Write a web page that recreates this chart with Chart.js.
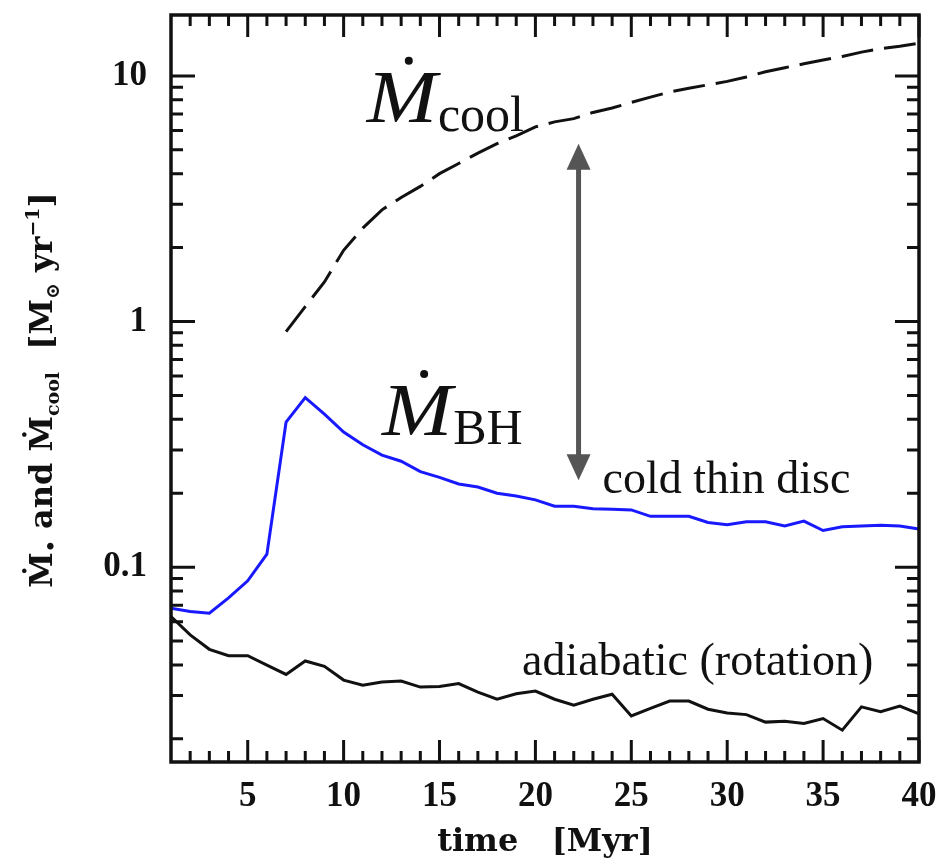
<!DOCTYPE html>
<html>
<head>
<meta charset="utf-8">
<script src="https://cdn.jsdelivr.net/npm/chart.js@4.4.1/dist/chart.umd.min.js"></script>
<style>
  html, body { margin: 0; padding: 0; background: #fff; }
  #wrap { width: 944px; height: 865px; }
</style>
</head>
<body>
<div id="wrap"><canvas id="chart" width="944" height="865"></canvas></div>
<script>
// time in Myr
const time = [1, 2, 3, 4, 5, 6, 7, 8, 9, 10, 11, 12, 13, 14, 15, 16, 17, 18, 19, 20,
  21, 22, 23, 24, 25, 26, 27, 28, 29, 30, 31, 32, 33, 34, 35, 36, 37, 38, 39, 40];

// BH accretion rate, cold thin disc run (blue)
const bhRate = [0.068, 0.066, 0.065, 0.075, 0.088, 0.113, 0.39, 0.49, 0.42, 0.355,
  0.315, 0.286, 0.27, 0.245, 0.232, 0.218, 0.212, 0.2, 0.195, 0.188,
  0.177, 0.177, 0.173, 0.172, 0.171, 0.161, 0.161, 0.161, 0.152, 0.149,
  0.153, 0.153, 0.147, 0.154, 0.141, 0.146, 0.147, 0.148, 0.147, 0.143];

// BH accretion rate, adiabatic (rotation) run (black)
const adiabaticRate = [0.063, 0.053, 0.0463, 0.0436, 0.0436, 0.0399, 0.0366, 0.0415, 0.0395, 0.0347,
  0.0331, 0.0341, 0.0344, 0.0325, 0.0327, 0.0336, 0.031, 0.029, 0.0305, 0.0313,
  0.029, 0.0274, 0.029, 0.0304, 0.0248, 0.0266, 0.0285, 0.0285, 0.0264, 0.0255,
  0.0251, 0.0234, 0.0236, 0.0231, 0.0242, 0.0217, 0.027, 0.0258, 0.0272, 0.0253];

// cooling rate (dashed), only from 7 Myr on
const coolTime = [7, 8, 9, 10, 11, 12, 13, 14, 15, 16, 17, 18, 19, 20, 21, 22, 23,
  24, 25, 26, 27, 28, 29, 30, 31, 32, 33, 34, 35, 36, 37, 38, 39, 40];
const coolRate = [0.91, 1.15, 1.45, 1.95, 2.4, 2.85, 3.2, 3.55, 4.0, 4.4, 4.85, 5.3, 5.7,
  6.2, 6.5, 6.7, 7.1, 7.4, 7.8, 8.2, 8.6, 8.9, 9.2, 9.5, 9.9, 10.4, 10.8,
  11.2, 11.6, 12.0, 12.5, 12.9, 13.2, 13.6];

// axis ticks
const xMajor = [5, 10, 15, 20, 25, 30, 35, 40];
const xMinor = [2, 3, 4, 6, 7, 8, 9, 11, 12, 13, 14, 16, 17, 18, 19, 21, 22, 23, 24,
  26, 27, 28, 29, 31, 32, 33, 34, 36, 37, 38, 39];
const yMajor = [0.1, 1, 10];
const yMinor = [0.02, 0.03, 0.04, 0.05, 0.06, 0.07, 0.08, 0.09,
  0.2, 0.3, 0.4, 0.5, 0.6, 0.7, 0.8, 0.9, 2, 3, 4, 5, 6, 7, 8, 9];

// the double arrow between cooling rate and BH rate (data units)
const arrowT = 22.25;
const arrowTop = 5.3;
const arrowBottom = 0.226;

const toXY = (xs, ys) => xs.map((x, i) => ({ x: x, y: ys[i] }));

const frameTicks = {
  id: "frameTicks",
  afterDatasetsDraw(chart) {
    const { ctx, chartArea: a, scales } = chart;
    const xs = scales.x, ys = scales.y;
    ctx.save();
    ctx.strokeStyle = "#111";
    ctx.lineWidth = 3;
    ctx.lineCap = "butt";
    ctx.beginPath();
    const tick = (x1, y1, x2, y2) => { ctx.moveTo(x1, y1); ctx.lineTo(x2, y2); };
    xMajor.forEach((v) => {
      const p = xs.getPixelForValue(v);
      tick(p, a.bottom, p, a.bottom - 22);
      tick(p, a.top, p, a.top + 22);
    });
    xMinor.forEach((v) => {
      const p = xs.getPixelForValue(v);
      tick(p, a.bottom, p, a.bottom - 11);
      tick(p, a.top, p, a.top + 11);
    });
    yMajor.forEach((v) => {
      const p = ys.getPixelForValue(v);
      tick(a.left, p, a.left + 24, p);
      tick(a.right, p, a.right - 24, p);
    });
    yMinor.forEach((v) => {
      const p = ys.getPixelForValue(v);
      tick(a.left, p, a.left + 12, p);
      tick(a.right, p, a.right - 12, p);
    });
    ctx.stroke();
    ctx.lineWidth = 3.5;
    ctx.strokeRect(a.left, a.top, a.right - a.left, a.bottom - a.top);
    ctx.restore();
  },
};

const labels = {
  id: "labels",
  afterDatasetsDraw(chart) {
    const { ctx, scales } = chart;
    const X = (v) => scales.x.getPixelForValue(v);
    const Y = (v) => scales.y.getPixelForValue(v);
    ctx.save();
    ctx.fillStyle = "#111";
    ctx.textBaseline = "alphabetic";
    ctx.textAlign = "left";

    // M-dot with subscript (M a bit wider, like computer modern)
    const mdot = (t, v, sub) => {
      const x = X(t), y = Y(v);
      ctx.font = "italic 74px 'Liberation Serif'";
      const w = ctx.measureText("M").width * 1.14;
      ctx.save();
      ctx.translate(x, y);
      ctx.scale(1.14, 1);
      ctx.fillText("M", 0, 0);
      ctx.restore();
      ctx.beginPath();
      ctx.arc(x + w * 0.6, y - 61, 4, 0, Math.PI * 2);
      ctx.fill();
      ctx.font = "50px 'Liberation Serif'";
      ctx.fillText(sub, x + w + 1, y + 9);
    };
    mdot(11.2, 6.5, "cool");
    mdot(12.0, 0.345, "BH");

    ctx.font = "46px 'Liberation Serif'";
    ctx.fillText("cold thin disc", X(23.5), Y(0.2));
    ctx.fillText("adiabatic (rotation)", X(19.3), Y(0.0363));

    // double-headed arrow
    const ax = X(arrowT), y1 = Y(arrowTop), y2 = Y(arrowBottom);
    const head = 26, half = 12;
    ctx.strokeStyle = "#555";
    ctx.fillStyle = "#555";
    ctx.lineWidth = 5;
    ctx.beginPath();
    ctx.moveTo(ax, y1 + head - 4);
    ctx.lineTo(ax, y2 - head + 4);
    ctx.stroke();
    ctx.beginPath();
    ctx.moveTo(ax, y1);
    ctx.lineTo(ax - half, y1 + head);
    ctx.lineTo(ax + half, y1 + head);
    ctx.closePath();
    ctx.fill();
    ctx.beginPath();
    ctx.moveTo(ax, y2);
    ctx.lineTo(ax - half, y2 - head);
    ctx.lineTo(ax + half, y2 - head);
    ctx.closePath();
    ctx.fill();
    ctx.restore();
  },
};

// rotated y title with sub/superscripts
const yTitle = {
  id: "yTitle",
  afterDraw(chart) {
    const { ctx } = chart;
    const big = "bold 32px 'DejaVu Serif'";
    const small = "bold 19px 'DejaVu Serif'";
    const parts = [
      ["\u1E40", big, 0],
      ["\u2022", small, 5],
      [" and ", big, 0],
      ["\u1E40", big, 0],
      ["cool", small, 7],
      ["  [M", big, 0],
      ["\u2299", small, 7],
      [" yr", big, 0],
      ["\u22121", small, -13],
      ["]", big, 0],
    ];
    ctx.save();
    let total = 0;
    parts.forEach(([s, f]) => { ctx.font = f; total += ctx.measureText(s).width; });
    ctx.translate(52, 390);
    ctx.rotate(-Math.PI / 2);
    ctx.fillStyle = "#111";
    ctx.textBaseline = "alphabetic";
    let x = -total / 2;
    parts.forEach(([s, f, dy]) => {
      ctx.font = f;
      ctx.fillText(s, x, dy);
      x += ctx.measureText(s).width;
    });
    ctx.restore();
  },
};

new Chart(document.getElementById("chart"), {
  type: "line",
  data: {
    datasets: [
      {
        label: "cooling rate",
        data: toXY(coolTime, coolRate),
        borderColor: "#111",
        borderWidth: 3,
        borderDash: [32, 11],
        pointRadius: 0,
        tension: 0,
      },
      {
        label: "cold thin disc",
        data: toXY(time, bhRate),
        borderColor: "rgb(25, 25, 255)",
        borderWidth: 3,
        pointRadius: 0,
        tension: 0,
      },
      {
        label: "adiabatic (rotation)",
        data: toXY(time, adiabaticRate),
        borderColor: "#111",
        borderWidth: 3,
        pointRadius: 0,
        tension: 0,
      },
    ],
  },
  options: {
    responsive: false,
    animation: false,
    layout: { padding: { top: 15, right: 25, left: 0, bottom: 0 } },
    plugins: {
      legend: { display: false },
      tooltip: { enabled: false },
    },
    scales: {
      x: {
        type: "linear",
        min: 1,
        max: 40,
        grid: { display: false, drawTicks: false },
        border: { display: false },
        afterBuildTicks: (scale) => {
          scale.ticks = xMajor.map((v) => ({ value: v }));
        },
        afterFit: (scale) => {
          scale.height = 103;
          scale.paddingLeft = 0;
          scale.paddingRight = 0;
        },
        ticks: {
          padding: 14,
          color: "#111",
          font: { family: "'Liberation Serif'", weight: "bold", size: 35 },
          callback: (val) => String(val),
        },
        title: {
          display: true,
          text: "time   [Myr]",
          color: "#111",
          font: { family: "'DejaVu Serif'", weight: "bold", size: 32 },
          padding: { top: 0, bottom: 3 },
        },
      },
      y: {
        type: "logarithmic",
        min: 0.0161,
        max: 17.7,
        grid: { display: false, drawTicks: false },
        border: { display: false },
        afterBuildTicks: (scale) => {
          scale.ticks = yMajor.map((v) => ({ value: v }));
        },
        afterFit: (scale) => {
          scale.width = 171;
          scale.paddingTop = 0;
          scale.paddingBottom = 0;
        },
        ticks: {
          padding: 24,
          color: "#111",
          font: { family: "'Liberation Serif'", weight: "bold", size: 35 },
          callback: (val) => String(val),
        },
      },
    },
  },
  plugins: [frameTicks, labels, yTitle],
});
</script>
</body>
</html>
